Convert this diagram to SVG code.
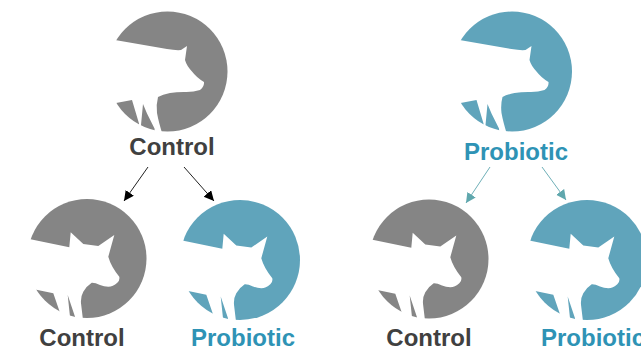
<svg xmlns="http://www.w3.org/2000/svg" width="641" height="348" viewBox="0 0 641 348">
<style>
text{font-family:"Liberation Sans",Arial,sans-serif;font-weight:700;text-anchor:middle;font-size:24px}
.g{fill:#858585}.t{fill:#60a4bb}.cut{fill:#fff}
.lg{fill:#404040}.lt{fill:#2e93b5}
.a1{stroke:#222;stroke-width:1;fill:none;marker-end:url(#ah1)}
.a2{stroke:#6fb0b8;stroke-width:1;fill:none;marker-end:url(#ah2)}
</style>
<defs>
<marker id="ah1" markerUnits="userSpaceOnUse" markerWidth="12" markerHeight="12" refX="10" refY="5" orient="auto"><path d="M0 0L10 5L0 10Z" fill="#000"/></marker>
<marker id="ah2" markerUnits="userSpaceOnUse" markerWidth="12" markerHeight="12" refX="10" refY="5" orient="auto"><path d="M0 0L10 5L0 10Z" fill="#5fa7ad"/></marker>
<path id="sow" class="cut" d="M-64-34L-52.500-31.500L-0.500-22.500Q8-21 13.500-21.500L19.500-25.500L17.500-11.500Q19-6 24.500 0Q29 6 36.500 10.500Q37 15 32.500 18.500Q25 21 16 20.500Q9 20.500 2.500 21.500Q-5 23-9.500 25.500Q-11.500 33-10.500 41.500Q-9 50-5 63H-12.500L-13 57L-20.500 42L-24.500 32.500L-26.500 53.500V63H-28.500V52L-35.500 28.500L-51.500 31.500L-64 33Z"/>
<path id="piglet" class="cut" d="M-68-22L-57.700-19.500L-17.700-11.200L-16.300-26.200L-3.700-14.500L11.300-12.500L27.300-23.500L21.300-1.800Q24 8 32.300 18.200Q33 22 30.300 24.200Q26 28 21.300 28.200Q17 28 13 26.500Q8 24 4.700 24.200Q-1 28-3.700 33.200Q-6.500 38-6 44.800L-3.700 64H-12V58.200L-19.300 36.500L-17 58.200V64H-27V54.200L-33.700 34.800L-53 30.800L-66 28Z"/>
</defs>
<g id="connectors">
<line class="a1" x1="148" y1="167" x2="124" y2="201"/>
<line class="a1" x1="184" y1="167" x2="214" y2="201"/>
<line class="a2" x1="490" y1="167" x2="466" y2="203"/>
<line class="a2" x1="542" y1="167" x2="566" y2="200"/>
</g>
<g id="sow-control">
<circle class="g" cx="167.500" cy="71.500" r="60"/>
<use href="#sow" x="167.500" y="71.500"/>
<text class="lg" x="172" y="155">Control</text>
</g>
<g id="sow-probiotic">
<circle class="t" cx="512" cy="71.500" r="60"/>
<use href="#sow" x="512" y="71.500"/>
<text class="lt" x="516" y="160">Probiotic</text>
</g>
<g id="piglet-control-1">
<circle class="g" cx="87" cy="258.500" r="59.500"/>
<use href="#piglet" x="87" y="258.500"/>
<text class="lg" x="82" y="346">Control</text>
</g>
<g id="piglet-probiotic-1">
<circle class="t" cx="240" cy="260" r="60"/>
<use href="#piglet" x="240" y="260"/>
<text class="lt" x="243" y="346">Probiotic</text>
</g>
<g id="piglet-control-2">
<circle class="g" cx="429" cy="259" r="59.500"/>
<use href="#piglet" x="429" y="259"/>
<text class="lg" x="429" y="346">Control</text>
</g>
<g id="piglet-probiotic-2">
<circle class="t" cx="587" cy="260" r="60"/>
<use href="#piglet" x="587" y="260"/>
<text class="lt" x="593" y="346">Probiotic</text>
</g>
</svg>
